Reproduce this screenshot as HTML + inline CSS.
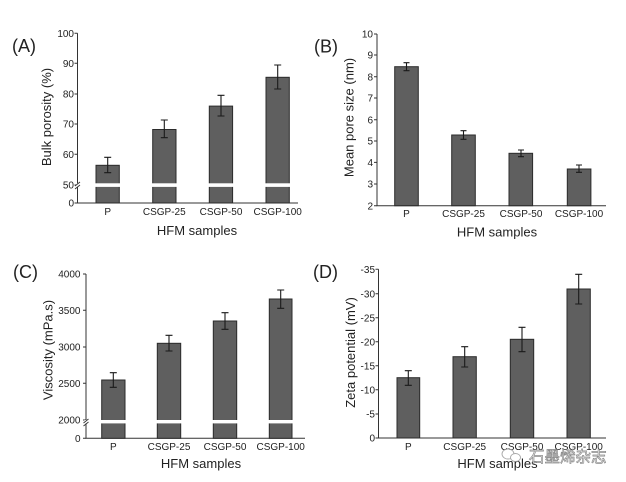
<!DOCTYPE html>
<html><head><meta charset="utf-8">
<style>
html,body{margin:0;padding:0;background:#fff;}
svg{display:block;}
text{font-family:"Liberation Sans",Arial,sans-serif;fill:#222;}
.t{font-size:10px;}
.xl{font-size:10px;text-anchor:middle;}
.ax{font-size:13px;}
.pl{font-size:18px;}
.bar{fill:#5f5f5f;stroke:#2b2b2b;stroke-width:1;}
.axis{stroke:#333;stroke-width:1;fill:none;}
.err{stroke:#1a1a1a;stroke-width:1.1;fill:none;}
</style></head>
<body>
<svg width="626" height="482" viewBox="0 0 626 482" xmlns="http://www.w3.org/2000/svg">
<rect width="626" height="482" fill="#fff"/>

<!-- ===== Panel A ===== -->
<text class="pl" x="12" y="52">(A)</text>
<text class="ax" text-anchor="middle" transform="translate(51,117) rotate(-90)">Bulk porosity (%)</text>
<g class="t" text-anchor="end">
<text x="74" y="36.9">100</text>
<text x="74" y="66.9">90</text>
<text x="74" y="97.6">80</text>
<text x="74" y="127.6">70</text>
<text x="74" y="157.9">60</text>
<text x="74" y="188.6">50</text>
<text x="74" y="206.6">0</text>
</g>
<g class="axis">
<path d="M77.5 33.3 V203 H298"/>
<path d="M74.5 33.3H77.5 M74.5 63.3H77.5 M74.5 94H77.5 M74.5 124H77.5 M74.5 154.3H77.5 M74.5 185H77.5 M74.5 203H77.5"/>
</g>
<rect class="bar" x="96" y="165.3" width="23.3" height="37.7"/>
<rect class="bar" x="152.7" y="129.5" width="23.3" height="73.5"/>
<rect class="bar" x="209.3" y="106.1" width="23.3" height="96.9"/>
<rect class="bar" x="266" y="77.3" width="23.3" height="125.7"/>
<rect x="90" y="183.3" width="205" height="3.6" fill="#fff"/>
<rect x="76" y="183.3" width="3" height="3.6" fill="#fff"/>
<path d="M75 186 L80 182 M75 189 L80 185" stroke="#333" stroke-width="0.9"/>
<g class="err">
<path d="M107.7 157.3V172.7 M104.2 157.3H111.2 M104.2 172.7H111.2"/>
<path d="M164.3 120V137.7 M160.8 120H167.8 M160.8 137.7H167.8"/>
<path d="M221 95.3V116 M217.5 95.3H224.5 M217.5 116H224.5"/>
<path d="M277.7 65V89 M274.2 65H281.2 M274.2 89H281.2"/>
</g>
<text class="xl" x="107.7" y="215">P</text>
<text class="xl" x="164.3" y="215">CSGP-25</text>
<text class="xl" x="221" y="215">CSGP-50</text>
<text class="xl" x="277.7" y="215">CSGP-100</text>
<text class="ax" text-anchor="middle" x="197" y="235">HFM samples</text>

<!-- ===== Panel B ===== -->
<text class="pl" x="314" y="52.5">(B)</text>
<text class="ax" text-anchor="middle" transform="translate(353.6,117.5) rotate(-90)">Mean pore size (nm)</text>
<g class="t" text-anchor="end">
<text x="373" y="37.6">10</text>
<text x="373" y="58.6">9</text>
<text x="373" y="80.3">8</text>
<text x="373" y="101.6">7</text>
<text x="373" y="123.3">6</text>
<text x="373" y="144.6">5</text>
<text x="373" y="166">4</text>
<text x="373" y="187.6">3</text>
<text x="373" y="209.3">2</text>
</g>
<g class="axis">
<path d="M377 34 V205.7 H606"/>
<path d="M374 34H377 M374 55H377 M374 76.7H377 M374 98H377 M374 119.7H377 M374 141H377 M374 162.4H377 M374 184H377 M374 205.7H377"/>
</g>
<rect class="bar" x="394.7" y="66.7" width="23.6" height="139"/>
<rect class="bar" x="451.7" y="135" width="23.6" height="70.7"/>
<rect class="bar" x="509" y="153.3" width="23.6" height="52.4"/>
<rect class="bar" x="567.3" y="169" width="23.6" height="36.7"/>
<g class="err">
<path d="M406.5 62.7V70.7 M403.5 62.7H409.5 M403.5 70.7H409.5"/>
<path d="M463.5 130.7V139.3 M460.5 130.7H466.5 M460.5 139.3H466.5"/>
<path d="M521 150V156.7 M518 150H524 M518 156.7H524"/>
<path d="M579 165V172.3 M576 165H582 M576 172.3H582"/>
</g>
<text class="xl" x="406.5" y="217">P</text>
<text class="xl" x="463.5" y="217">CSGP-25</text>
<text class="xl" x="521" y="217">CSGP-50</text>
<text class="xl" x="579" y="217">CSGP-100</text>
<text class="ax" text-anchor="middle" x="497" y="236.5">HFM samples</text>

<!-- ===== Panel C ===== -->
<text class="pl" x="13" y="278">(C)</text>
<text class="ax" text-anchor="middle" transform="translate(52.3,350) rotate(-90)">Viscosity (mPa.s)</text>
<g class="t" text-anchor="end">
<text x="80.5" y="277.6">4000</text>
<text x="80.5" y="313.9">3500</text>
<text x="80.5" y="350.6">3000</text>
<text x="80.5" y="386.9">2500</text>
<text x="80.5" y="423.6">2000</text>
<text x="80.5" y="441.9">0</text>
</g>
<g class="axis">
<path d="M86 274 V438.3 H305"/>
<path d="M83 274H86 M83 310.3H86 M83 347H86 M83 383.3H86 M83 420H86 M83 438.3H86"/>
</g>
<rect class="bar" x="101.7" y="380" width="23.3" height="58.3"/>
<rect class="bar" x="157.3" y="343.3" width="23.4" height="95"/>
<rect class="bar" x="213.3" y="321" width="23.4" height="117.3"/>
<rect class="bar" x="269.3" y="299" width="22.7" height="139.3"/>
<rect x="96" y="420" width="202" height="3.4" fill="#fff"/>
<rect x="84.5" y="420" width="3" height="3.4" fill="#fff"/>
<path d="M83.5 423 L88.5 419 M83.5 426 L88.5 422" stroke="#333" stroke-width="0.9"/>
<g class="err">
<path d="M113.3 372.7V387.3 M109.8 372.7H116.8 M109.8 387.3H116.8"/>
<path d="M169 335.3V351 M165.5 335.3H172.5 M165.5 351H172.5"/>
<path d="M225 312.7V329.3 M221.5 312.7H228.5 M221.5 329.3H228.5"/>
<path d="M280.7 290V308.3 M277.2 290H284.2 M277.2 308.3H284.2"/>
</g>
<text class="xl" x="113.3" y="450">P</text>
<text class="xl" x="169" y="450">CSGP-25</text>
<text class="xl" x="225" y="450">CSGP-50</text>
<text class="xl" x="280.7" y="450">CSGP-100</text>
<text class="ax" text-anchor="middle" x="201" y="468">HFM samples</text>

<!-- ===== Panel D ===== -->
<text class="pl" x="313" y="278">(D)</text>
<text class="ax" text-anchor="middle" transform="translate(355,352.5) rotate(-90)">Zeta potential (mV)</text>
<g class="t" text-anchor="end">
<text x="375" y="272.9">-35</text>
<text x="375" y="297.3">-30</text>
<text x="375" y="321.3">-25</text>
<text x="375" y="345.3">-20</text>
<text x="375" y="369.3">-15</text>
<text x="375" y="393.3">-10</text>
<text x="375" y="417.6">-5</text>
<text x="375" y="441.6">0</text>
</g>
<g class="axis">
<path d="M378.5 269.3 V438 H606"/>
<path d="M375.5 269.3H378.5 M375.5 293.7H378.5 M375.5 317.7H378.5 M375.5 341.7H378.5 M375.5 365.7H378.5 M375.5 389.7H378.5 M375.5 414H378.5 M375.5 438H378.5"/>
</g>
<rect class="bar" x="397" y="377.7" width="22.7" height="60.3"/>
<rect class="bar" x="453" y="356.7" width="23.3" height="81.3"/>
<rect class="bar" x="510.3" y="339.3" width="23.4" height="98.7"/>
<rect class="bar" x="567" y="289" width="23.3" height="149"/>
<g class="err">
<path d="M408.3 370.7V385.3 M404.8 370.7H411.8 M404.8 385.3H411.8"/>
<path d="M464.7 346.7V367 M461.2 346.7H468.2 M461.2 367H468.2"/>
<path d="M522 327.3V351.7 M518.5 327.3H525.5 M518.5 351.7H525.5"/>
<path d="M578.7 274.3V304 M575.2 274.3H582.2 M575.2 304H582.2"/>
</g>
<text class="xl" x="408.3" y="450">P</text>
<text class="xl" x="464.7" y="450">CSGP-25</text>
<text class="xl" x="522" y="450">CSGP-50</text>
<text class="xl" x="578.7" y="450">CSGP-100</text>
<text class="ax" text-anchor="middle" x="497.5" y="468">HFM samples</text>

<!-- watermark -->
<g opacity="0.85">
<ellipse cx="508" cy="454" rx="6" ry="5" fill="none" stroke="#999" stroke-width="0.9"/>
<ellipse cx="515.5" cy="457.5" rx="5" ry="4" fill="#fff" stroke="#999" stroke-width="0.9"/>
<text x="529" y="462" style="font-family:'Noto Sans CJK SC','WenQuanYi Zen Hei',sans-serif;font-size:15.5px;fill:#fff;stroke:#777;stroke-width:0.7;">石墨烯杂志</text>
</g>
</svg>
</body></html>
